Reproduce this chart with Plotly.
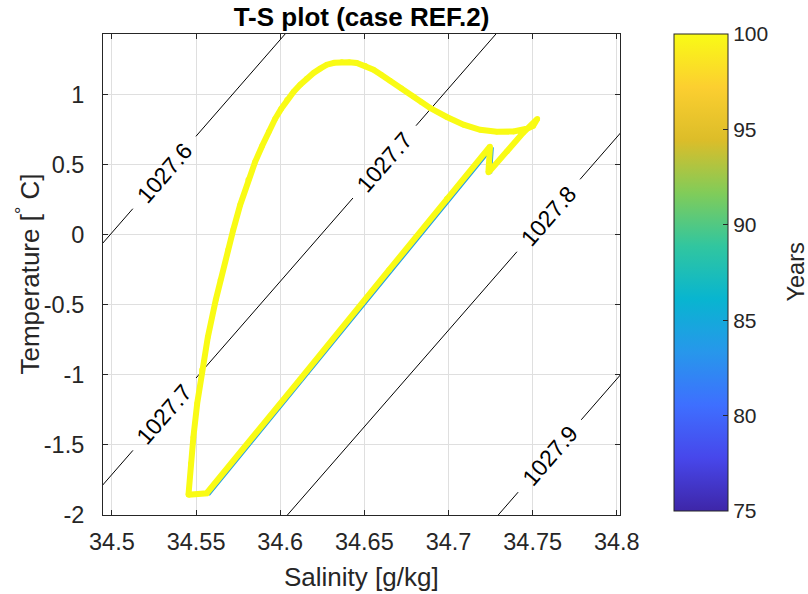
import math
import plotly.graph_objects as go
from plotly.colors import sample_colorscale

# ---------------- data ----------------
# final (year 100) cycle of the T-S trajectory
S_FINAL = [34.5455, 34.5469, 34.5484, 34.5507, 34.5535, 34.5570, 34.5617, 34.5645,
           34.5690, 34.5721, 34.5762, 34.5810, 34.5851, 34.5893, 34.5932, 34.5970,
           34.6006, 34.6041, 34.6080, 34.6119, 34.6157, 34.6198, 34.6237, 34.6277,
           34.6321, 34.6366, 34.6410, 34.6455, 34.6505, 34.6554, 34.6600, 34.6653,
           34.6719, 34.6792, 34.6840, 34.6891, 34.6990, 34.7089, 34.7188, 34.7287,
           34.7386, 34.7465, 34.7503, 34.7528,
           34.7443, 34.7347, 34.7237, 34.7247, 34.6990, 34.6647, 34.6119, 34.5563,
           34.5455]
T_FINAL = [-1.856, -1.633, -1.445, -1.202, -0.966, -0.731, -0.466, -0.324,
           -0.109, 0.034, 0.212, 0.391, 0.519, 0.634, 0.734, 0.826,
           0.898, 0.962, 1.019, 1.069, 1.112, 1.153, 1.184, 1.212,
           1.226, 1.231, 1.230, 1.224, 1.205, 1.176, 1.141, 1.098,
           1.044, 0.986, 0.944, 0.903, 0.839, 0.784, 0.748, 0.734,
           0.736, 0.755, 0.776, 0.826,
           0.726, 0.593, 0.443, 0.629, 0.255, -0.252, -1.031, -1.845,
           -1.856]
YEAR_FINAL = 100

# an earlier cycle, visible only as a thin edge along the lower branch
S_EARLY = [34.5569, 34.7253, 34.7243]
T_EARLY = [-1.850, 0.623, 0.438]
YEAR_EARLY = 84

# potential density contours (linear equation of state fitted to the figure)
RHO_LEVELS = [1027.6, 1027.7, 1027.8, 1027.9]
RHO0, S_REF, BETA, ALPHA = 1027.6, 34.499, 0.7983, 0.05798
LABEL_LEVELS = [1027.6, 1027.7, 1027.7, 1027.8, 1027.9]
LABEL_T = [0.443, 0.519, -1.281, 0.136, -1.579]

X_RANGE = [34.4947, 34.8019]
Y_RANGE = [-2.0, 1.431]
X_TICKS = [34.5, 34.55, 34.6, 34.65, 34.7, 34.75, 34.8]
X_TICKTEXT = ["34.5", "34.55", "34.6", "34.65", "34.7", "34.75", "34.8"]
Y_TICKS = [-2, -1.5, -1, -0.5, 0, 0.5, 1]
Y_TICKTEXT = ["-2", "-1.5", "-1", "-0.5", "0", "0.5", "1"]
CB_TICKS = [75, 80, 85, 90, 95, 100]
YEAR_MIN, YEAR_MAX = 75, 100

# parula colormap
PARULA_RGB = [(0.2422, 0.1504, 0.6603), (0.2803, 0.2782, 0.9221), (0.2440, 0.4358, 0.9988),
              (0.1540, 0.5902, 0.9218), (0.0297, 0.7082, 0.8163), (0.1938, 0.7758, 0.6251),
              (0.5044, 0.7993, 0.3480), (0.8634, 0.7406, 0.1596), (0.9892, 0.8136, 0.1885),
              (0.9769, 0.9839, 0.0805)]
PARULA = [[i / (len(PARULA_RGB) - 1),
           "rgb(%d,%d,%d)" % tuple(round(c * 255) for c in rgb)]
          for i, rgb in enumerate(PARULA_RGB)]

# ---------------- layout constants ----------------
W, H = 808, 594
ML, MR, MT, MB = 103, 188, 34, 79
PW, PH = W - ML - MR, H - MT - MB
FONT = "Liberation Sans, Arial, Helvetica, sans-serif"
AX = "#262626"
PXS = PW / (X_RANGE[1] - X_RANGE[0])
PXT = PH / (Y_RANGE[1] - Y_RANGE[0])


def s_of(level, t):
    return S_REF + (level - RHO0 + ALPHA * t) / BETA


def year_color(y):
    return sample_colorscale(PARULA, [(y - YEAR_MIN) / (YEAR_MAX - YEAR_MIN)])[0]


def px_x(px):   # pixel column -> paper x
    return (px - ML) / PW


def px_y(py):   # pixel row -> paper y
    return (MT + PH - py) / PH


fig = go.Figure()

# contour lines with gaps where the labels sit
dsdt = ALPHA / BETA
lp = math.hypot(dsdt * PXS, PXT)
gap = 48.0 / lp
for lev in RHO_LEVELS:
    ts = sorted(t for l, t in zip(LABEL_LEVELS, LABEL_T) if l == lev)
    bounds = [Y_RANGE[0] - 1.0]
    for t in ts:
        bounds += [t - gap, t + gap]
    bounds.append(Y_RANGE[1] + 1.0)
    xs, ys = [], []
    for a, b in zip(bounds[0::2], bounds[1::2]):
        xs += [s_of(lev, a), s_of(lev, b), None]
        ys += [a, b, None]
    fig.add_trace(go.Scatter(x=xs, y=ys, mode="lines", showlegend=False,
                             line=dict(color="black", width=1), hoverinfo="skip"))

angle = -math.degrees(math.atan2(PXT, dsdt * PXS))
annotations = []
for lev, t in zip(LABEL_LEVELS, LABEL_T):
    annotations.append(dict(x=s_of(lev, t), y=t, xref="x", yref="y", text="%.1f" % lev,
                            showarrow=False, textangle=angle, xanchor="center",
                            yanchor="middle", font=dict(family=FONT, size=23, color="black")))

# trajectory
fig.add_trace(go.Scatter(x=S_EARLY, y=T_EARLY, mode="lines", showlegend=False,
                         line=dict(color=year_color(YEAR_EARLY), width=5.5)))
fig.add_trace(go.Scatter(
    x=S_FINAL, y=T_FINAL, mode="lines+markers", showlegend=False,
    line=dict(color=year_color(YEAR_FINAL), width=6),
    marker=dict(size=5.5, color=[YEAR_FINAL] * len(S_FINAL), colorscale=PARULA,
                cmin=YEAR_MIN, cmax=YEAR_MAX, showscale=True,
                colorbar=dict(x=px_x(674), xref="paper", xanchor="left", xpad=0,
                              y=px_y(272.5), yref="paper", yanchor="middle", ypad=0,
                              len=477, lenmode="pixels", thickness=54, thicknessmode="pixels",
                              outlinewidth=1, outlinecolor=AX, ticks="inside", ticklen=5,
                              tickcolor=AX, tickvals=CB_TICKS,
                              ticktext=[str(v) for v in CB_TICKS],
                              tickfont=dict(family=FONT, size=21, color=AX)))))

# axis titles / colorbar title
annotations += [
    dict(x=0.5, y=px_y(577), xref="paper", yref="paper", text="Salinity [g/kg]",
         showarrow=False, xanchor="center", yanchor="middle",
         font=dict(family=FONT, size=26, color=AX)),
    dict(x=px_x(29), y=px_y(274.5), xref="paper", yref="paper",
         text="Temperature [<sup>°</sup> C]", showarrow=False, textangle=-90,
         xanchor="center", yanchor="middle", font=dict(family=FONT, size=26, color=AX)),
    dict(x=px_x(795), y=px_y(272.5), xref="paper", yref="paper",
         text="Years", showarrow=False, textangle=-90,
         xanchor="center", yanchor="middle", font=dict(family=FONT, size=23.5, color=AX)),
]

axis_common = dict(showgrid=True, gridcolor="#DFDFDF", gridwidth=1, zeroline=False,
                   showline=True, linecolor=AX, linewidth=1, mirror="ticks",
                   ticks="inside", ticklen=5, tickcolor=AX,
                   tickfont=dict(family=FONT, size=23.5, color=AX))

fig.update_layout(
    width=W, height=H, margin=dict(l=ML, r=MR, t=MT, b=MB),
    paper_bgcolor="white", plot_bgcolor="white",
    title=dict(text="<b>T-S plot (case REF.2)</b>", x=0.5, xref="paper", xanchor="center",
               y=1 - 17 / H, yref="container", yanchor="middle",
               font=dict(family=FONT, size=26, color="black")),
    xaxis=dict(range=X_RANGE, tickvals=X_TICKS, ticktext=X_TICKTEXT,
               ticklabelstandoff=6, **axis_common),
    yaxis=dict(range=Y_RANGE, tickvals=Y_TICKS, ticktext=Y_TICKTEXT,
               ticklabelstandoff=13, **axis_common),
    annotations=annotations,
    showlegend=False,
)

fig.write_html("out.html")
